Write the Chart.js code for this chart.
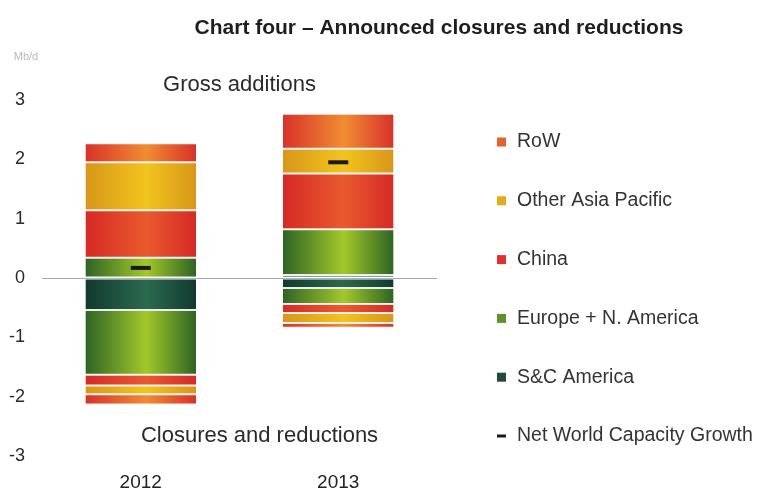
<!DOCTYPE html>
<html>
<head>
<meta charset="utf-8">
<script src="https://cdn.jsdelivr.net/npm/chart.js@4/dist/chart.umd.min.js"></script>
<style>
  html, body { margin: 0; padding: 0; background: #fff; }
  #wrap { width: 764px; height: 491px; position: relative; }
</style>
</head>
<body>
<div id="wrap"><canvas id="closuresChart"></canvas></div>
<script>
// Years on the x axis
const years = ['2012', '2013'];

// Gross additions (Mb/d), stacked upwards
const sacAdd = [0, 0.05];
const europeAdd = [0.34, 0.77];
const chinaAdd = [0.80, 0.94];
const otherAsiaAdd = [0.81, 0.42];
const rowAdd = [0.32, 0.59];

// Closures and reductions (Mb/d), stacked downwards
const sacCut = [-0.54, -0.17];
const europeCut = [-1.09, -0.27];
const chinaCut = [-0.18, -0.15];
const otherAsiaCut = [-0.15, -0.17];
const rowCut = [-0.17, -0.08];

// Net world capacity growth marker
const netGrowth = [0.17, 1.95];

const yTicks = [-3, -2, -1, 0, 1, 2, 3];

const FONT = "'Liberation Sans', Arial, sans-serif";
const BAR_PCT = 0.56;

// edge / centre colours for the shaded bars, plus a flat legend colour
const regions = [
    { name: 'S&C America', add: sacAdd, cut: sacCut, edge: '#103a30', mid: '#2c6a4e', flat: '#22493a' },
    { name: 'Europe + N. America', add: europeAdd, cut: europeCut, edge: '#2e6424', mid: '#a2c82a', flat: '#5f9228' },
    { name: 'China', add: chinaAdd, cut: chinaCut, edge: '#d52a26', mid: '#ea5a2e', flat: '#e0322a' },
    { name: 'Other Asia Pacific', add: otherAsiaAdd, cut: otherAsiaCut, edge: '#d8961a', mid: '#f2c41e', flat: '#e4aa1c' },
    { name: 'RoW', add: rowAdd, cut: rowCut, edge: '#d8322a', mid: '#f08c32', flat: '#e0642c' },
];

const shade = (r) => (ctx) => {
    const chart = ctx.chart;
    const area = chart.chartArea;
    if (!area || ctx.dataIndex === undefined) return r.flat;
    const x = chart.scales.x.getPixelForValue(ctx.dataIndex);
    const half = (area.right - area.left) / years.length * BAR_PCT / 2;
    const g = chart.ctx.createLinearGradient(x - half, 0, x + half, 0);
    g.addColorStop(0, r.edge);
    g.addColorStop(0.55, r.mid);
    g.addColorStop(1, r.edge);
    return g;
};

const barSet = (r, data, part) => ({
    type: 'bar',
    label: r.name,
    part,
    data,
    stack: 'capacity',
    categoryPercentage: 1,
    barPercentage: BAR_PCT,
    backgroundColor: shade(r),
    borderColor: 'rgba(235,235,235,0.9)',
    borderWidth: { top: 1, bottom: 1, left: 0, right: 0 },
    borderSkipped: false,
    flat: r.flat,
    order: 2,
});

const datasets = [
    ...regions.map(r => barSet(r, r.add, 'add')),
    ...regions.map(r => barSet(r, r.cut, 'cut')),
    {
        type: 'line',
        label: 'Net World Capacity Growth',
        data: netGrowth,
        showLine: false,
        pointStyle: 'line',
        pointRadius: 10,
        pointHoverRadius: 10,
        borderColor: '#1a1a1a',
        backgroundColor: '#1a1a1a',
        borderWidth: 4,
        pointBorderWidth: 4,
        order: 1,
    },
];

// right-hand key, drawn from the dataset list (RoW first, net marker last)
const sideLegend = {
    id: 'sideLegend',
    afterDraw(chart) {
        const { ctx } = chart;
        const sets = chart.data.datasets;
        const items = sets.filter(d => d.part === 'add').reverse()
            .concat(sets.filter(d => d.type === 'line'));
        const x0 = 497, y0 = 142, step = 58.8;
        ctx.save();
        ctx.textBaseline = 'middle';
        ctx.textAlign = 'left';
        ctx.font = `19.5px ${FONT}`;
        items.forEach((d, i) => {
            const y = y0 + i * step;
            if (d.type === 'line') {
                ctx.fillStyle = d.borderColor;
                ctx.fillRect(x0, y - 1.5, 9, 3);
            } else {
                ctx.fillStyle = d.flat;
                ctx.fillRect(x0, y - 4.5, 9, 9);
            }
            ctx.fillStyle = '#333';
            ctx.fillText(d.label, x0 + 20, y);
        });
        ctx.restore();
    },
};

// texts written on the plot: title, unit, the two captions
const annotations = {
    id: 'annotations',
    afterDraw(chart) {
        const { ctx, chartArea: a, scales: { y } } = chart;
        const midX = (a.left + a.right) / 2;
        ctx.save();
        ctx.textBaseline = 'middle';
        ctx.textAlign = 'center';
        ctx.fillStyle = '#1e1e1e';
        ctx.font = `bold 21px ${FONT}`;
        ctx.fillText('Chart four \u2013 Announced closures and reductions', a.right + 2, 28);

        ctx.fillStyle = '#b8b8b8';
        ctx.font = `11px ${FONT}`;
        ctx.fillText('Mb/d', 26, y.getPixelForValue(3.72));

        ctx.fillStyle = '#2a2a2a';
        ctx.font = `22px ${FONT}`;
        ctx.fillText('Gross additions', midX, y.getPixelForValue(3.25));
        ctx.fillText('Closures and reductions', midX + 20, y.getPixelForValue(-2.66));
        ctx.restore();
    },
};

new Chart(document.getElementById('closuresChart'), {
    data: { labels: years, datasets },
    options: {
        responsive: true,
        maintainAspectRatio: false,
        animation: false,
        layout: { padding: { top: 100, right: 327, bottom: 0, left: 0 } },
        plugins: {
            tooltip: { enabled: false },
            legend: { display: false },
        },
        scales: {
            x: {
                stacked: true,
                grid: { display: false, drawTicks: false },
                border: { display: false },
                ticks: { color: '#222', font: { family: FONT, size: 19 }, padding: 15 },
                afterFit(scale) { scale.height = 35; },
            },
            y: {
                stacked: true,
                min: yTicks[0],
                max: yTicks[yTicks.length - 1],
                afterBuildTicks(scale) { scale.ticks = yTicks.map(v => ({ value: v })); },
                grid: {
                    drawTicks: false,
                    color: (c) => (c.tick && c.tick.value === 0 ? '#a8a8a8' : 'transparent'),
                },
                border: { display: false },
                ticks: { color: '#2a2a2a', font: { family: FONT, size: 18 }, padding: 17 },
                afterFit(scale) { scale.width = 42; },
            },
        },
    },
    plugins: [sideLegend, annotations],
});
</script>
</body>
</html>
